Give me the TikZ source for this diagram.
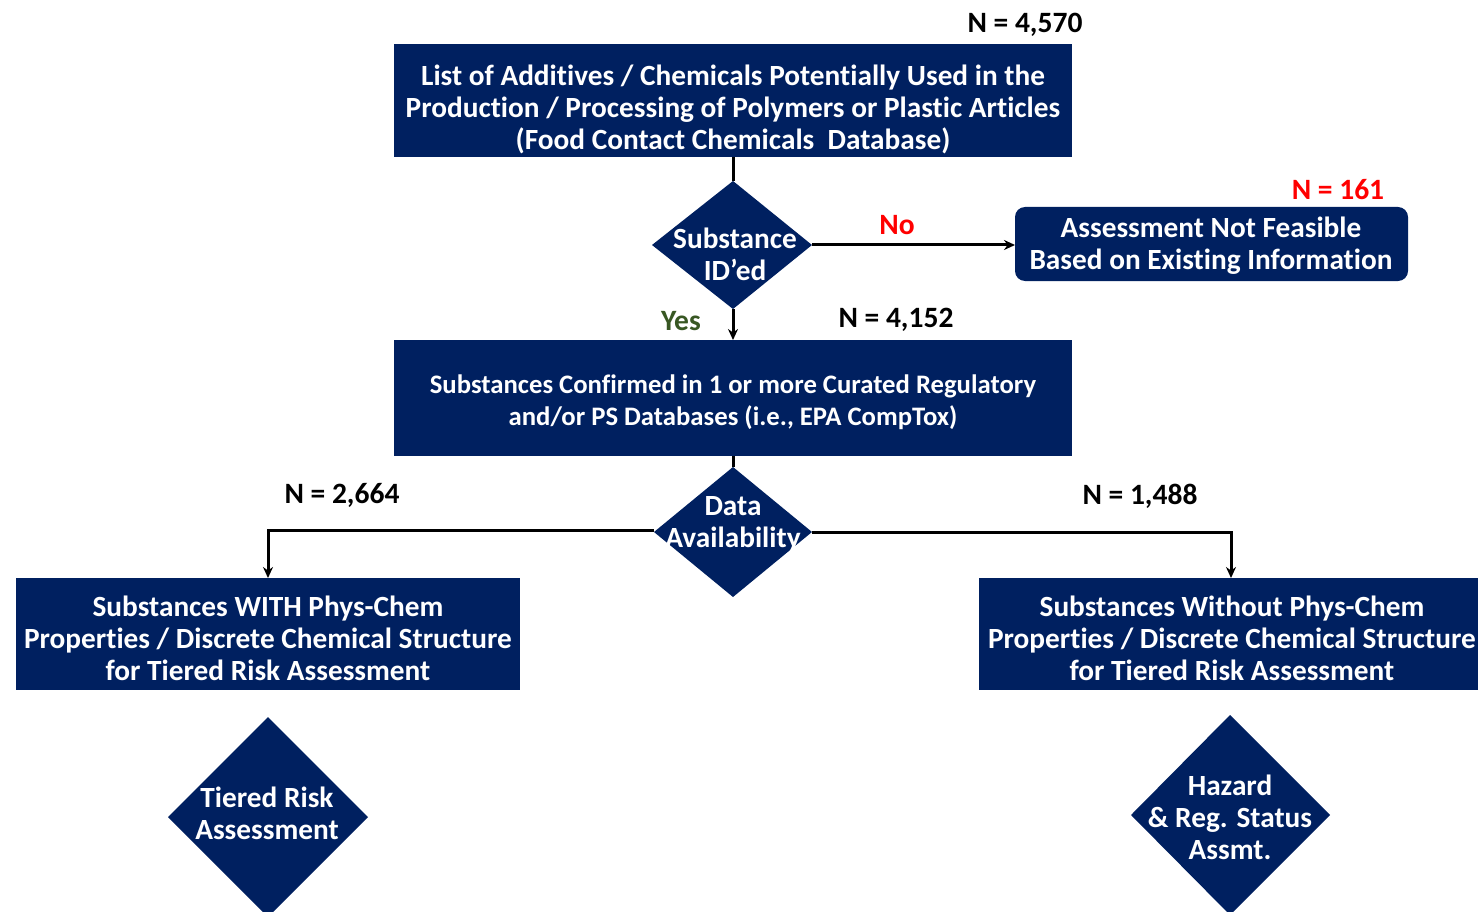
\documentclass[tikz,border=0pt]{standalone}
\usepackage{fontspec}
\setmainfont{Carlito}[Ligatures=NoCommon]
\usetikzlibrary{arrows.meta}
\definecolor{navy}{HTML}{002060}
\definecolor{yesgreen}{HTML}{385723}
\definecolor{nored}{HTML}{FF0000}
\tikzset{
  px/.style={x=1pt,y=-1pt},
  boxfill/.style={fill=navy,draw=none},
  boxtext/.style={text=white,align=center,font=\bfseries\fontsize{29.3}{32}\selectfont,inner sep=0pt},
  midtext/.style={text=white,align=center,font=\bfseries\fontsize{26.7}{32}\selectfont,inner sep=0pt},
  count/.style={font=\bfseries\fontsize{29.5}{32}\selectfont,inner sep=0pt},
  link/.style={draw=black,line width=3pt},
  arrowlink/.style={link,-{Stealth[length=11pt,width=10pt]}},
}
\begin{document}
\begin{tikzpicture}[px]
\useasboundingbox (0,0) rectangle (1478,912);
\clip (0,0) rectangle (1478,912);

% boxes
\path[boxfill] (394,44) rectangle (1072,157);
\node[boxtext] (list) at (733,109) {List of Additives / Chemicals Potentially Used in the\\Production / Processing of Polymers or Plastic Articles\\(Food Contact Chemicals\ \ Database)};
\coordinate (listS) at (733,157);

\path[boxfill,rounded corners=10pt] (1015,207) rectangle (1408,281);
\node[boxtext] (nf) at (1211,246) {Assessment Not Feasible\\Based on Existing Information};
\coordinate (nfW) at (1015,245);

\path[boxfill] (394,340) rectangle (1072,456);
\node[midtext] (conf) at (733,402) {Substances Confirmed in 1 or more Curated Regulatory\\and/or PS Databases (i.e., EPA CompTox)};
\coordinate (confN) at (733,340);
\coordinate (confS) at (733,456);

\path[boxfill] (16,578) rectangle (520,690);
\node[boxtext] (with) at (268,638) {Substances WITH Phys-Chem\\Properties / Discrete Chemical Structure\\for Tiered Risk Assessment};
\coordinate (withN) at (268,578);

\path[boxfill] (979,578) rectangle (1490,690);
\node[boxtext] (without) at (1232,638) {Substances Without Phys-Chem\\Properties / Discrete Chemical Structure\\for Tiered Risk Assessment};
\coordinate (withoutN) at (1231,578);

% decision diamonds
\path[boxfill] (733,181) -- (812,245) -- (733,309) -- (652,245) -- cycle;
\coordinate (d1N) at (733,181);
\coordinate (d1E) at (812,245);
\coordinate (d1S) at (733,309);
\node[boxtext] (d1) at (735,254) {Substance\\ID’ed};

\path[boxfill] (733,467) -- (812,532) -- (733,597) -- (654,532) -- cycle;
\coordinate (d2N) at (733,467);
\coordinate (d2E) at (812,532);
\coordinate (d2W) at (654,530);
\node[boxtext] (d2) at (733,524) {Data\\Availability};

\path[boxfill] (268,717) -- (368,817) -- (268,917) -- (168,817) -- cycle;
\node[boxtext] (tra) at (267,813) {Tiered Risk\\Assessment};

\path[boxfill] (1230,715) -- (1330,815) -- (1230,915) -- (1131,815) -- cycle;
\node[boxtext] (haz) at (1230,817) {Hazard\\\& Reg. Status\\Assmt.};

% connectors
\draw[link] (listS) -- (d1N);
\draw[arrowlink] (d1E) -- (nfW);
\draw[arrowlink] (d1S) -- (confN);
\draw[link] (confS) -- (d2N);
\draw[arrowlink] (d2W) -| (withN);
\draw[arrowlink] (d2E) -| (withoutN);

% labels
\node[count] (n4570) at (1025,25) {N = 4,570};
\node[count,text=nored] (n161) at (1338,190) {N = 161};
\node[count,text=nored] (no) at (897,225) {No};
\node[count,text=yesgreen] (yes) at (681,321) {Yes};
\node[count] (n4152) at (896,320) {N = 4,152};
\node[count] (n2664) at (342,495) {N = 2,664};
\node[count] (n1488) at (1140,496) {N = 1,488};
\end{tikzpicture}
\end{document}
